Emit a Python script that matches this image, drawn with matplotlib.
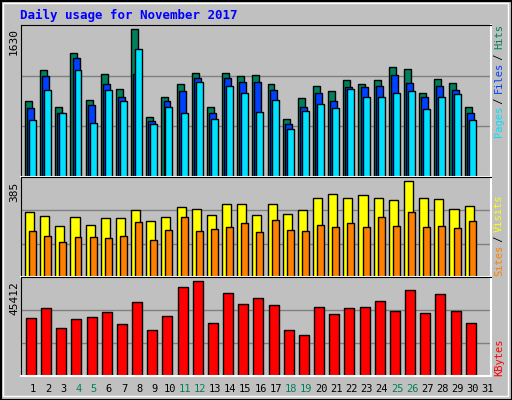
import numpy as np
import matplotlib.pyplot as plt
from matplotlib.patches import Rectangle

days = [str(d) for d in range(1, 32)]
weekend = [4, 5, 11, 12, 18, 19, 25, 26]

hits = [810, 1143, 756, 1325, 831, 1100, 949, 1583, 648, 863, 992, 1110, 756, 1110, 1078,
        1089, 992, 627, 842, 981, 917, 1035, 992, 1035, 1175, 1153, 906, 1046, 1003, 756]
files = [745, 1078, 691, 1272, 767, 992, 853, 1100, 605, 810, 917, 1067, 691, 1057, 1014,
         1014, 938, 573, 756, 896, 820, 960, 960, 981, 1089, 1003, 853, 971, 938, 681]
pages = [616, 928, 681, 1143, 584, 938, 810, 1368, 573, 756, 691, 1014, 627, 981, 906,
         702, 831, 519, 713, 788, 745, 949, 863, 853, 896, 917, 734, 853, 885, 616]
visits = [250, 234, 198, 230, 202, 226, 226, 258, 214, 230, 270, 262, 238, 282, 282,
          238, 282, 242, 258, 306, 318, 306, 314, 306, 298, 370, 306, 302, 262, 274]
sites = [178, 158, 134, 154, 154, 150, 158, 210, 142, 182, 230, 178, 186, 194, 206,
         174, 218, 182, 178, 202, 194, 206, 194, 230, 198, 250, 194, 198, 190, 214]
kbytes = [26444, 31223, 22143, 25966, 26922, 29311, 24054, 34090, 21187, 27400, 40781,
          43648, 24532, 37913, 33134, 36002, 32657, 21187, 18797, 31701, 28355, 31223,
          31701, 34568, 29789, 39347, 28833, 37436, 29789, 24532]

max_hits, max_visits, max_kb = 1630, 385, 45412

W, H = 512, 400
fig = plt.figure(figsize=(W / 100, H / 100), dpi=100)
fig.patch.set_facecolor("#C0C0C0")
bg = fig.add_axes([0, 0, 1, 1])
bg.set_xlim(0, W)
bg.set_ylim(H, 0)
bg.axis("off")
bg.add_patch(Rectangle((0.5, 0.5), W - 1, H - 1, fill=False, ec="black", lw=1.5))
bg.add_patch(Rectangle((3, 3), W - 7, H - 7, fill=False, ec="white", lw=1))

mono = "DejaVu Sans Mono"
bg.text(20, 15, "Daily usage for November 2017", color="#0000FF", fontsize=9,
        fontweight="bold", family=mono, va="center")


def panel(top, bottom):
    ax = fig.add_axes([21 / W, 1 - bottom / H, 470 / W, (bottom - top) / H])
    ax.set_facecolor("#C0C0C0")
    ax.set_xlim(0, 31)
    ax.set_xticks([])
    ax.set_yticks([])
    for s in ("left", "top"):
        ax.spines[s].set_color("black")
    for s in ("right", "bottom"):
        ax.spines[s].set_color("white")
        ax.spines[s].set_linewidth(1.5)
    return ax


x = np.arange(len(hits))

ax1 = panel(25, 177)
ax1.set_ylim(0, max_hits)
for g in (max_hits / 3, 2 * max_hits / 3):
    ax1.axhline(g, color="#808080", lw=1, zorder=0)
ax1.bar(x + 0.26, hits, 0.46, align="edge", color="#00805C", ec="black", lw=1)
ax1.bar(x + 0.40, files, 0.46, align="edge", color="#0040FF", ec="black", lw=1)
ax1.bar(x + 0.53, pages, 0.46, align="edge", color="#00E0FF", ec="black", lw=1)

ax2 = panel(177, 277)
ax2.set_ylim(0, max_visits)
for g in (max_visits / 3, 2 * max_visits / 3):
    ax2.axhline(g, color="#808080", lw=1, zorder=0)
ax2.bar(x + 0.26, visits, 0.6, align="edge", color="#FFFF00", ec="black", lw=1)
ax2.bar(x + 0.53, sites, 0.46, align="edge", color="#FF8000", ec="black", lw=1)

ax3 = panel(277, 376)
ax3.set_ylim(0, max_kb)
for g in (max_kb / 3, 2 * max_kb / 3):
    ax3.axhline(g, color="#808080", lw=1, zorder=0)
ax3.bar(x + 0.33, kbytes, 0.66, align="edge", color="#FF0000", ec="black", lw=1)

# day labels
for i, d in enumerate(days):
    px = 21 + (i + 0.8) * 470 / 31
    col = "#00805C" if (i + 1) in weekend else "black"
    bg.text(px, 389, d, color=col, fontsize=7.5, family=mono, ha="center", va="center")

# left max labels
for y, txt in ((28, str(max_hits)), (182, str(max_visits)), (281, str(max_kb))):
    bg.text(14, y, txt, rotation=90, fontsize=8, family=mono, ha="center", va="top")


def stacked_label(y_bottom, parts):
    y = y_bottom
    for txt, col in parts:
        bg.text(499, y, txt, rotation=90, color=col, fontsize=7.5, family=mono,
                ha="center", va="bottom")
        y -= len(txt) * 5.5


stacked_label(137, [("Pages", "#00E0FF"), (" / ", "black"), ("Files", "#0040FF"),
                    (" / ", "black"), ("Hits", "#00805C")])
stacked_label(276, [("Sites", "#FF8000"), (" / ", "black"), ("Visits", "#FFFF00")])
stacked_label(376, [("KBytes", "#FF0000")])

fig.savefig("out.png", dpi=100, facecolor=fig.get_facecolor())
